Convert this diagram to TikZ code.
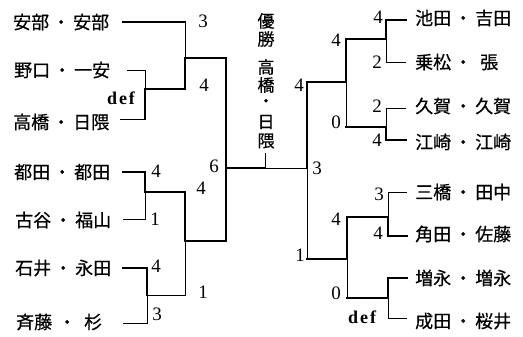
\documentclass[tikz,border=0pt]{standalone}
\usepackage{fontspec}
\setmainfont{Liberation Serif}
\newfontfamily\jp[FakeBold=0.5]{Noto Sans CJK JP}
\newcommand{\nmp}[2]{#1\hspace{3pt}・\hspace{3pt}#2}
\begin{document}
\begin{tikzpicture}[x=1pt,y=-1pt,
 thk/.style={line width=2.4pt,line cap=rect,line join=miter},
 thn/.style={line width=0.9pt},
 nm/.style={anchor=west,inner sep=0pt,font=\jp\fontsize{18}{18}\selectfont},
 sc/.style={inner sep=0pt,font=\fontsize{19}{19}\selectfont},
 df/.style={inner sep=0pt,font=\bfseries\fontsize{18}{18}\selectfont},
 vt/.style={inner sep=0pt,font=\jp\fontsize{17}{17}\selectfont}]
\useasboundingbox (0,0) rectangle (523,337);
% ---- names left
\node[nm] (n1) at (13,22) {\nmp{安部}{安部}};
\node[nm] (n2) at (14,70) {\nmp{野口}{一安}};
\node[nm] (n3) at (13,122) {\nmp{高橋}{日隈}};
\node[nm] (n4) at (14,172) {\nmp{都田}{都田}};
\node[nm] (n5) at (15,220) {\nmp{古谷}{福山}};
\node[nm] (n6) at (15,268) {\nmp{石井}{永田}};
\node[nm] (n7) at (16,322) {斉藤\hspace{6pt}・\hspace{8pt}杉};
% ---- names right
\node[nm] (m1) at (415,18) {\nmp{池田}{吉田}};
\node[nm] (m2) at (415,62) {乗松\hspace{3pt}・\hspace{8pt}張};
\node[nm] (m3) at (415,106) {\nmp{久賀}{久賀}};
\node[nm] (m4) at (415,142) {\nmp{江崎}{江崎}};
\node[nm] (m5) at (415,192) {\nmp{三橋}{田中}};
\node[nm] (m6) at (415,234) {\nmp{角田}{佐藤}};
\node[nm] (m7) at (415,278) {\nmp{増永}{増永}};
\node[nm] (m8) at (415,321) {\nmp{成田}{桜井}};
% ---- champion vertical text
\foreach \c/\y [count=\i] in {優/21,勝/39,高/67,橋/85,・/103,日/122,隈/141}
  \node[vt] (v\i) at (266,\y) {\c};
% ---- coordinates left
\coordinate (p1s) at (123,22);  \coordinate (p1e) at (185,22);
\coordinate (p2s) at (127,70);  \coordinate (p2e) at (145,70);
\coordinate (p3s) at (120,119); \coordinate (p3e) at (145,119);
\coordinate (q1) at (145,89);   \coordinate (q1r) at (185,89);
\coordinate (r1) at (185,58);   \coordinate (r1r) at (226,58);
\coordinate (f1) at (226,168);  \coordinate (f1m) at (265,168);
\coordinate (f1r) at (307,168); \coordinate (st) at (265,153);
\coordinate (p4s) at (123,172); \coordinate (p4e) at (145,172);
\coordinate (q2) at (145,192);  \coordinate (q2r) at (185,192);
\coordinate (p5s) at (123,219); \coordinate (p5e) at (145,219);
\coordinate (p6s) at (123,268); \coordinate (p6e) at (147,268);
\coordinate (q3) at (147,295);  \coordinate (q3r) at (185,295);
\coordinate (p7s) at (123,323); \coordinate (p7e) at (147,323);
\coordinate (r2) at (185,241);  \coordinate (r2r) at (226,241);
% ---- coordinates right
\coordinate (R1) at (307,82);   \coordinate (R1r) at (346,82);
\coordinate (R2) at (307,259);  \coordinate (R2r) at (347,259);
\coordinate (S1) at (346,39);   \coordinate (S1r) at (386,39);
\coordinate (S2) at (346,127);  \coordinate (S2r) at (386,127);
\coordinate (T1) at (386,20);   \coordinate (T1r) at (406,20);
\coordinate (T2) at (386,62);   \coordinate (T2r) at (406,62);
\coordinate (T3) at (386,108);  \coordinate (T3r) at (406,108);
\coordinate (T4) at (386,140);  \coordinate (T4r) at (406,140);
\coordinate (S3) at (347,217);  \coordinate (S3r) at (388,217);
\coordinate (S4) at (347,298);  \coordinate (S4r) at (388,298);
\coordinate (T5) at (388,192);  \coordinate (T5r) at (407,192);
\coordinate (T6) at (388,236);  \coordinate (T6r) at (407,236);
\coordinate (T7) at (388,278);  \coordinate (T7r) at (407,278);
\coordinate (T8) at (388,318);  \coordinate (T8r) at (407,318);
% ---- left bracket
\draw[thk] (p1s) -- (p1e);
\draw[thn] (p1e) -- (r1);
\draw[thk] (r1) -- (q1r);
\draw[thn] (p2s) -- (p2e) -- (q1);
\draw[thk] (q1) -- (p3e);
\draw[thn] (p3s) -- (p3e);
\draw[thk] (q1) -- (q1r);
\draw[thk] (r1) -- (r1r) -- (f1) -- (f1m);
\draw[thn] (f1m) -- (f1r);
\draw[thn] (st) -- (f1m);
\draw[thk] (p4s) -- (p4e) -- (q2) -- (q2r) -- (r2) -- (r2r) -- (f1);
\draw[thn] (q2) -- (p5e) -- (p5s);
\draw[thk] (p6s) -- (p6e) -- (q3);
\draw[thn] (q3) -- (p7e) -- (p7s);
\draw[thn] (q3) -- (q3r) -- (r2);
% ---- right bracket
\draw[thk] (f1r) -- (R1) -- (R1r);
\draw[thn] (f1r) -- (R2);
\draw[thk] (R2) -- (R2r);
\draw[thk] (R1r) -- (S1) -- (S1r);
\draw[thn] (R1r) -- (S2);
\draw[thk] (S2) -- (S2r);
\draw[thk] (S1r) -- (T1) -- (T1r);
\draw[thn] (S1r) -- (T2) -- (T2r);
\draw[thn] (S2r) -- (T3) -- (T3r);
\draw[thk] (S2r) -- (T4) -- (T4r);
\draw[thk] (R2r) -- (S3) -- (S3r);
\draw[thn] (R2r) -- (S4);
\draw[thk] (S4) -- (S4r);
\draw[thn] (S3r) -- (T5) -- (T5r);
\draw[thk] (S3r) -- (T6) -- (T6r);
\draw[thk] (S4r) -- (T7) -- (T7r);
\draw[thn] (S4r) -- (T8) -- (T8r);
% ---- scores left
\node[sc] (s1) at (203,21) {3};
\node[sc] (s2) at (204,85) {4};
\node[df] (d1) at (121,98) {d\kern2pt e\kern2pt f};
\node[sc] (s3) at (214,166) {6};
\node[sc] (s4) at (156,171) {4};
\node[sc] (s5) at (155,219) {1};
\node[sc] (s6) at (201,188) {4};
\node[sc] (s7) at (203,292) {1};
\node[sc] (s8) at (156,266) {4};
\node[sc] (s9) at (157,314) {3};
% ---- scores right
\node[sc] (t1) at (299,85) {4};
\node[sc] (t2) at (317,168) {3};
\node[sc] (t3) at (300,255) {1};
\node[sc] (t4) at (336,40) {4};
\node[sc] (t5) at (336,122) {0};
\node[sc] (t6) at (378,17) {4};
\node[sc] (t7) at (377,62) {2};
\node[sc] (t8) at (377,106) {2};
\node[sc] (t9) at (377,140) {4};
\node[sc] (u1) at (379,194) {3};
\node[sc] (u2) at (378,233) {4};
\node[sc] (u3) at (336,219) {4};
\node[sc] (u4) at (336,293) {0};
\node[df] (d2) at (362,317) {d\kern2pt e\kern2pt f};
\end{tikzpicture}
\end{document}
